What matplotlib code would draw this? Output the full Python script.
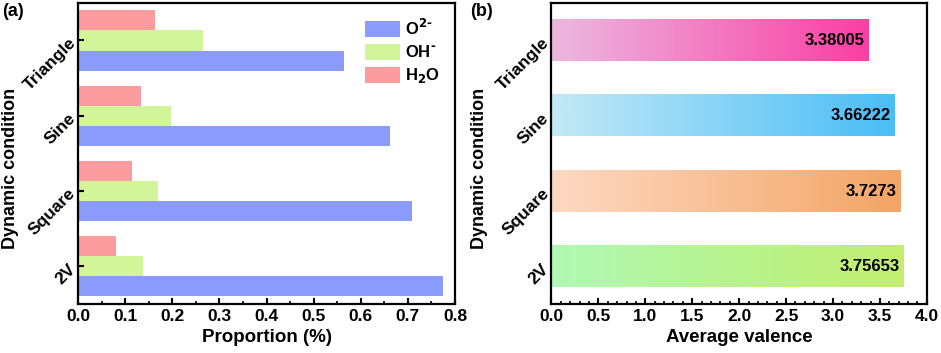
import matplotlib.pyplot as plt
from matplotlib import ticker
from matplotlib.colors import LinearSegmentedColormap
import numpy as np

plt.rcParams['font.family'] = ['Liberation Sans', 'DejaVu Sans']
plt.rcParams['font.weight'] = 'bold'
plt.rcParams['axes.labelweight'] = 'bold'

# data
conditions = ['2V', 'Square', 'Sine', 'Triangle']
o2 = [0.775, 0.709, 0.662, 0.564]    # O2-
oh = [0.138, 0.170, 0.197, 0.265]    # OH-
h2o = [0.080, 0.114, 0.133, 0.164]   # H2O
valence = [3.75653, 3.7273, 3.66222, 3.38005]
valence_labels = ['3.75653', '3.7273', '3.66222', '3.38005']

# gradient colours for panel (b): (left, right)
grad_colors = [('#b0f9b5', '#c2ee6e'),
               ('#fdd9c4', '#f3a565'),
               ('#c3e9f6', '#4bbdf6'),
               ('#ebb9e0', '#fa3fa3')]

fig = plt.figure(figsize=(9.41, 3.53), dpi=100)
ax1 = fig.add_axes([0.083, 0.139, 0.4005, 0.853])
ax2 = fig.add_axes([0.586, 0.139, 0.399, 0.853])

y = np.arange(len(conditions))
h = 0.267

ax1.barh(y - h, o2, height=h, color='#8a9bfb', label='O$^{2\\text{-}}$')
ax1.barh(y, oh, height=h, color='#d3f59a', label='OH$^{\\text{-}}$')
ax1.barh(y + h, h2o, height=h, color='#fc9c9e', label='H$_2$O')
ax1.set_xlim(0, 0.8)
ax1.set_ylim(-0.5, 3.5)
ax1.xaxis.set_major_locator(ticker.MultipleLocator(0.1))
ax1.xaxis.set_minor_locator(ticker.MultipleLocator(0.05))
ax1.set_xlabel('Proportion (%)', fontsize=13.5)
ax1.legend(loc='upper right', fontsize=12, frameon=False, handlelength=2.1,
           handleheight=1.1, handletextpad=0.3, labelspacing=0.35,
           borderaxespad=0.5)

# panel (b), gradient bars
bh = 0.55
for i, v in enumerate(valence):
    cmap = LinearSegmentedColormap.from_list('g%d' % i, grad_colors[i])
    grad = np.linspace(0, 1, 256).reshape(1, -1)
    ax2.imshow(grad, cmap=cmap, aspect='auto', interpolation='bicubic',
               extent=[0, v, i - bh / 2, i + bh / 2], zorder=2)
    ax2.text(v - 0.05, i, valence_labels[i], ha='right', va='center',
             fontsize=12, fontweight='bold', zorder=3)
ax2.set_xlim(0, 4.0)
ax2.set_ylim(-0.5, 3.5)
ax2.xaxis.set_major_locator(ticker.MultipleLocator(0.5))
ax2.xaxis.set_minor_locator(ticker.MultipleLocator(0.1))
ax2.xaxis.set_major_formatter(ticker.FormatStrFormatter('%.1f'))
ax2.set_xlabel('Average valence', fontsize=13.5)

for ax in (ax1, ax2):
    ax.set_yticks(y)
    ax.set_yticklabels(conditions, rotation=45, fontsize=12.5, va='center',
                       ha='right', rotation_mode='anchor')
    ax.set_ylabel('Dynamic condition', fontsize=13)
    ax.tick_params(axis='both', which='major', direction='in', width=1.5, length=4)
    ax.tick_params(axis='x', labelsize=12.5)
    ax.tick_params(axis='x', which='minor', direction='in', width=1.2, length=2)
    for s in ax.spines.values():
        s.set_linewidth(1.6)

ax1.yaxis.set_label_coords(-0.158, 0.45)
ax2.yaxis.set_label_coords(-0.17, 0.45)

fig.text(0.002, 0.955, '(a)', fontsize=13, fontweight='bold')
fig.text(0.500, 0.955, '(b)', fontsize=13, fontweight='bold')

fig.savefig('out.png', dpi=100)
